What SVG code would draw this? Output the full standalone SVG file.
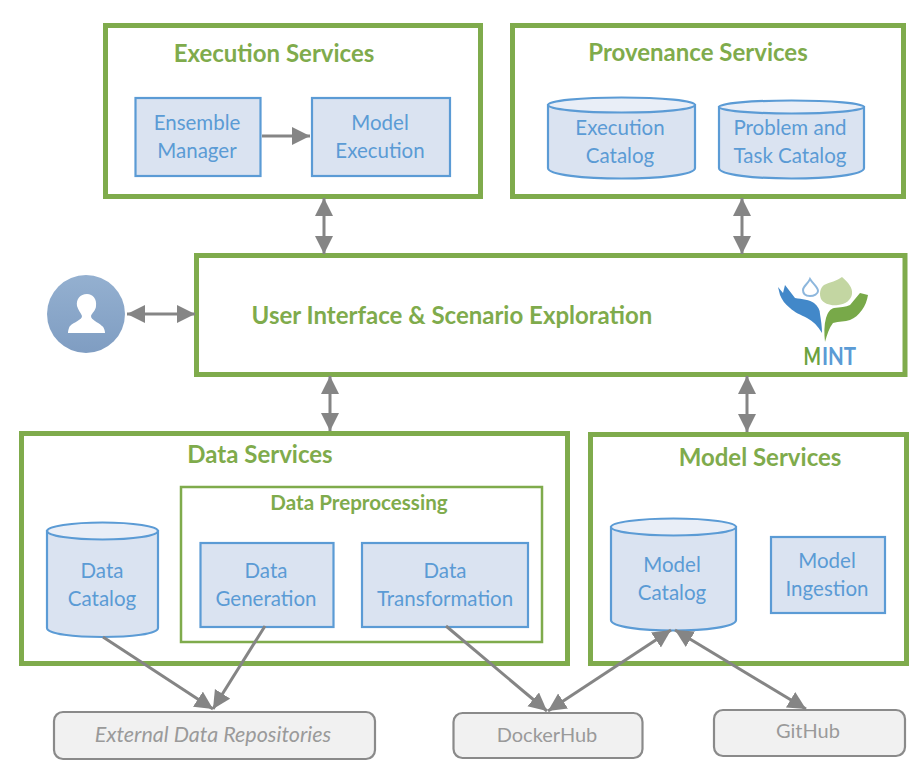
<svg xmlns="http://www.w3.org/2000/svg" width="924" height="770" viewBox="0 0 924 770">
<style>
text{font-family:Lato,"Liberation Sans",sans-serif;text-anchor:middle}
.svc{fill:#fff;stroke:#7fab4c;stroke-width:5}
.sub{fill:#fff;stroke:#7fab4c;stroke-width:2.5}
.t1{fill:#7fab4c;font-size:24px;font-weight:700}
.t2{fill:#7fab4c;font-size:20.600px;font-weight:700}
.b{fill:#dae3f1;stroke:#5b9bd5;stroke-width:2.2}
.top{fill:#e9eef7;stroke:#5b9bd5;stroke-width:2.2}
.l{fill:#5b9bd5;font-size:20.500px}
.ext{fill:#f1f1f1;stroke:#8a8a8a;stroke-width:2.2}
.e{fill:#9a9a9a;font-size:20px}
.c{fill:none;stroke:#858585;stroke-width:3}
.m{font-size:25px;font-weight:700;text-anchor:start}
</style>
<defs>
<marker id="a" markerUnits="userSpaceOnUse" markerWidth="20" markerHeight="20" refX="18" refY="9" orient="auto-start-reverse"><path d="M0 0L18 9L0 18Z" fill="#858585"/></marker>
<linearGradient id="u" x1="0" y1="0" x2="0" y2="1"><stop offset="0" stop-color="#94b0d0"/><stop offset="1" stop-color="#7f9dc2"/></linearGradient>
</defs>
<g id="execution-services">
<rect class="svc" x="105.500" y="25.500" width="375" height="171"/>
<text class="t1" x="274" y="62">Execution Services</text>
</g>
<g id="ensemble-manager">
<rect class="b" x="135.500" y="98" width="125" height="78"/>
<text class="l" x="197" y="130">Ensemble</text><text class="l" x="197" y="158">Manager</text>
</g>
<g id="model-execution">
<rect class="b" x="312" y="98" width="138" height="78"/>
<text class="l" x="380" y="130">Model</text><text class="l" x="380" y="158">Execution</text>
</g>
<g id="provenance-services">
<rect class="svc" x="512.500" y="25.500" width="391" height="171"/>
<text class="t1" x="698" y="61">Provenance Services</text>
</g>
<g id="execution-catalog">
<path class="b" d="M548 105V168C548 182 695 182 695 168V105Z"/>
<ellipse class="top" cx="621.500" cy="105" rx="73.500" ry="7.500"/>
<text class="l" x="620" y="135">Execution</text><text class="l" x="620" y="163">Catalog</text>
</g>
<g id="problem-task-catalog">
<path class="b" d="M719 107V168C719 182 864 182 864 168V107Z"/>
<ellipse class="top" cx="791.500" cy="107" rx="72.500" ry="6.500"/>
<text class="l" x="790" y="135">Problem and</text><text class="l" x="790" y="163">Task Catalog</text>
</g>
<g id="user-interface">
<rect class="svc" x="196.500" y="255.500" width="708.500" height="119"/>
<text class="t1" x="452" y="324">User Interface &amp; Scenario Exploration</text>
</g>
<g id="mint-logo">
<path d="M842 277C848 282 853 288 852 294C851 300 846 304 838 305C831 306 824 304 821 299C819 294 820 288 824 285C830 282 837 281 842 277Z" fill="#c3d6a2"/>
<path d="M810 279C813 284 818 287 818 291C818 294 814 296 810 296C806 296 803 294 803 290C803 286 808 284 810 279Z" fill="#fff" stroke="#8db7dd" stroke-width="2"/>
<path d="M778 287L783 293L785 285L795 298C802 299 810 300 814 303C818 306 820 310 820 314C821 320 822 327 822 333C818 326 813 321 807 318C801 315 794 312 790 308C785 304 782 300 780 295Z" fill="#4288c9"/>
<path d="M825 342C824 334 824 325 826 318C828 312 830 309 834 308C840 307 846 307 850 305L860 293L868 295C867 301 865 306 862 310C858 315 855 318 850 320C845 322 839 321 833 323C829 328 827 335 825 342Z" fill="#78a949"/>
<text class="m" transform="translate(803.500 365) scale(.74 1)" fill="#6ba23e">M</text>
<text class="m" transform="translate(822 365) scale(.82 1)" fill="#5b9bd5">INT</text>
</g>
<g id="user">
<circle cx="86" cy="314" r="39" fill="url(#u)"/>
<path d="M87 294C80 294 76 299 77 306C78 310 81 313 82 316C82 320 74 322 70 326C69 327 68 331 68 333H105C105 331 104 327 102 326C98 322 91 320 91 316C92 313 96 310 96 306C97 299 93 294 87 294Z" fill="#fff"/>
</g>
<g id="data-services">
<rect class="svc" x="21.500" y="433.500" width="546" height="230"/>
<text class="t1" x="260" y="463">Data Services</text>
</g>
<g id="data-preprocessing">
<rect class="sub" x="181" y="487" width="361" height="155"/>
<text class="t2" x="359" y="510">Data Preprocessing</text>
</g>
<g id="data-catalog">
<path class="b" d="M47 531V628C47 640 158 640 158 628V531Z"/>
<ellipse class="top" cx="102.500" cy="531" rx="55.500" ry="8.500"/>
<text class="l" x="102" y="578">Data</text><text class="l" x="102" y="606">Catalog</text>
</g>
<g id="data-generation">
<rect class="b" x="200.500" y="543" width="133" height="84"/>
<text class="l" x="266" y="578">Data</text><text class="l" x="266" y="606">Generation</text>
</g>
<g id="data-transformation">
<rect class="b" x="362" y="543" width="166" height="84"/>
<text class="l" x="445" y="578">Data</text><text class="l" x="445" y="606">Transformation</text>
</g>
<g id="model-services">
<rect class="svc" x="590.500" y="434.500" width="316" height="229"/>
<text class="t1" x="760" y="466">Model Services</text>
</g>
<g id="model-catalog">
<path class="b" d="M611 527V620C611 634 736 634 736 620V527Z"/>
<ellipse class="top" cx="673.500" cy="527" rx="62.500" ry="8.500"/>
<text class="l" x="672" y="572">Model</text><text class="l" x="672" y="600">Catalog</text>
</g>
<g id="model-ingestion">
<rect class="b" x="771" y="537" width="114" height="76"/>
<text class="l" x="827" y="568">Model</text><text class="l" x="827" y="596">Ingestion</text>
</g>
<g id="external-data-repositories">
<rect class="ext" x="54" y="712" width="321" height="47" rx="9"/>
<text class="e" x="213" y="742" font-style="italic" style="font-size:21.500px">External Data Repositories</text>
</g>
<g id="dockerhub">
<rect class="ext" x="453.500" y="713" width="189" height="45" rx="9"/>
<text class="e" x="547" y="742">DockerHub</text>
</g>
<g id="github">
<rect class="ext" x="714" y="710" width="191" height="46" rx="9"/>
<text class="e" x="808" y="738">GitHub</text>
</g>
<g id="connectors">
<path class="c" d="M262 136H310" marker-end="url(#a)"/>
<path class="c" d="M324 198V254" marker-start="url(#a)" marker-end="url(#a)"/>
<path class="c" d="M742 198V254" marker-start="url(#a)" marker-end="url(#a)"/>
<path class="c" d="M127 314H195" marker-start="url(#a)" marker-end="url(#a)"/>
<path class="c" d="M330 376V431" marker-start="url(#a)" marker-end="url(#a)"/>
<path class="c" d="M747 376V432" marker-start="url(#a)" marker-end="url(#a)"/>
<path class="c" d="M103 637L213 709" marker-end="url(#a)"/>
<path class="c" d="M265 626L213 709" marker-end="url(#a)"/>
<path class="c" d="M446 626L547 711" marker-end="url(#a)"/>
<path class="c" d="M548 711L671 630" marker-start="url(#a)" marker-end="url(#a)"/>
<path class="c" d="M675 630L806 709" marker-start="url(#a)" marker-end="url(#a)"/>
</g>
</svg>
